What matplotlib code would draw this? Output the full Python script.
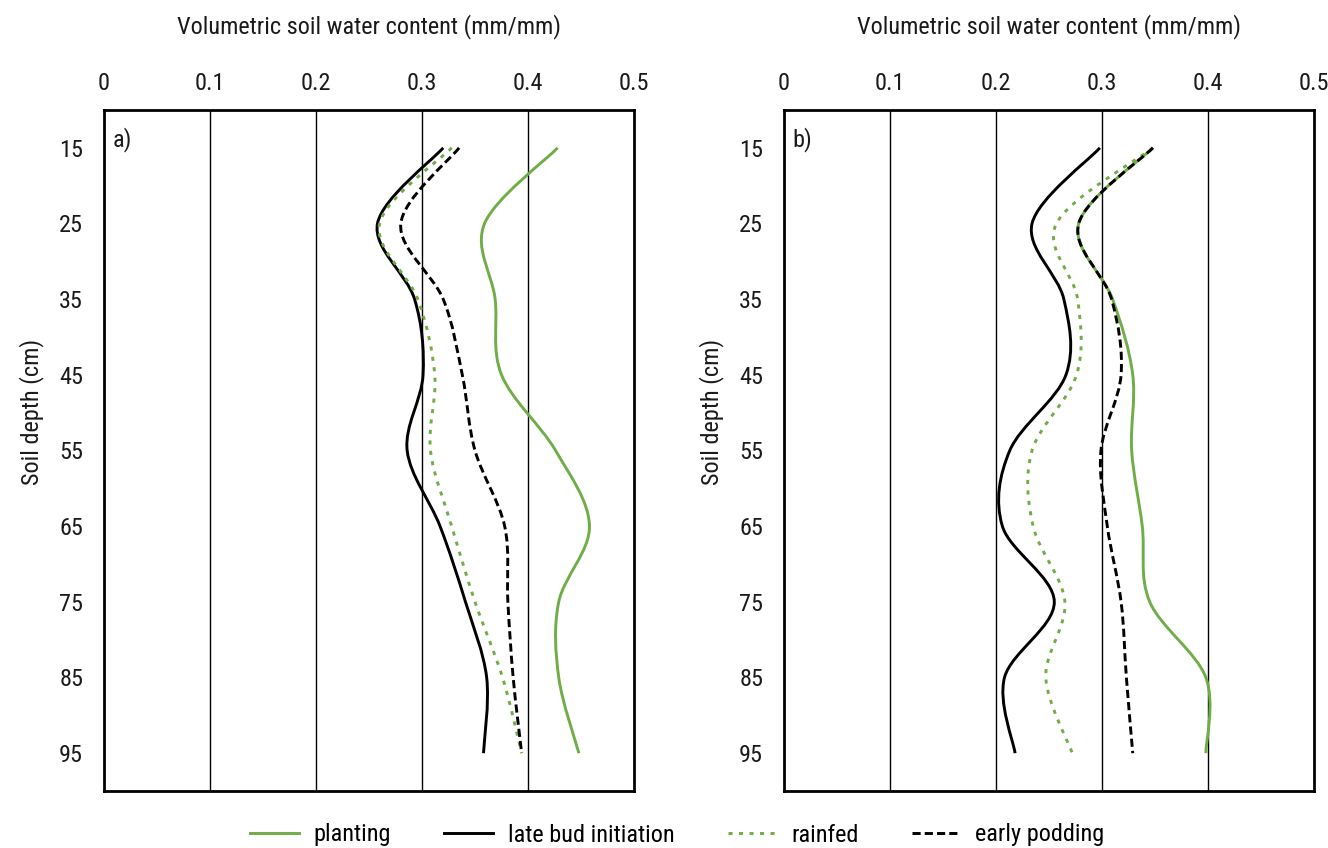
import matplotlib
matplotlib.use("Agg")
import matplotlib.pyplot as plt
from matplotlib.path import Path
from matplotlib.patches import PathPatch
from matplotlib.lines import Line2D
from matplotlib import font_manager

# ---- data -------------------------------------------------------------
depths = [15, 25, 35, 45, 55, 65, 75, 85, 95]

# panel a)
a_planting = [0.428, 0.359, 0.369, 0.375, 0.426, 0.458, 0.429, 0.429, 0.448]
a_late_bud = [0.320, 0.258, 0.293, 0.301, 0.286, 0.317, 0.341, 0.361, 0.358]
a_rainfed = [0.328, 0.260, 0.296, 0.312, 0.308, 0.328, 0.350, 0.376, 0.394]
a_early_pod = [0.335, 0.280, 0.320, 0.338, 0.350, 0.378, 0.381, 0.386, 0.394]

# panel b)
b_planting = [0.348, 0.278, 0.310, 0.329, 0.328, 0.338, 0.345, 0.398, 0.398]
b_late_bud = [0.298, 0.234, 0.264, 0.266, 0.213, 0.206, 0.255, 0.208, 0.218]
b_rainfed = [0.348, 0.257, 0.277, 0.276, 0.234, 0.235, 0.265, 0.247, 0.272]
b_early_pod = [0.348, 0.278, 0.309, 0.318, 0.299, 0.305, 0.318, 0.323, 0.329]

x_ticks = [0, 0.1, 0.2, 0.3, 0.4, 0.5]
x_tick_labels = ["0", "0.1", "0.2", "0.3", "0.4", "0.5"]
series_names = ["planting", "late bud initiation", "rainfed", "early podding"]
panel_tags = ["a)", "b)"]

# ---- fonts: prefer a narrow sans face ----------------------------------
entries = font_manager.fontManager.ttflist
names = {f.name for f in entries}
family = None
for cand in ["Liberation Sans Narrow", "Roboto Condensed", "Open Sans Condensed",
             "DejaVu Sans Condensed", "Noto Sans Condensed"]:
    if cand in names:
        family = cand
        break
stretch = "normal"
if family is None:
    narrow_faces = [f for f in entries
                    if f.name in ("DejaVu Sans", "Roboto", "Open Sans", "Noto Sans", "Liberation Sans")
                    and str(f.stretch) in ("condensed", "semi-condensed", "75", "87.5", "62.5")
                    and f.weight in (400, "normal", "regular")]
    if narrow_faces:
        family = narrow_faces[0].name
        stretch = "condensed"
    else:
        family = "DejaVu Sans"
        stretch = "condensed"
plt.rcParams["font.family"] = [family, "DejaVu Sans"]
plt.rcParams["font.stretch"] = stretch

GREEN = "#70AD47"
LW = 2.1
styles = [
    dict(color=GREEN, linestyle="-"),
    dict(color="black", linestyle="-"),
    dict(color=GREEN, linestyle=(0, (1.4, 2.2))),
    dict(color="black", linestyle=(0, (2.8, 1.4))),
]


def smooth_path(xs, ys):
    """Cubic Bezier path through the points (Catmull-Rom style smoothing)."""
    pts = list(zip(xs, ys))
    n = len(pts)
    verts = [pts[0]]
    codes = [Path.MOVETO]
    for i in range(n - 1):
        p0 = pts[max(i - 1, 0)]
        p1 = pts[i]
        p2 = pts[i + 1]
        p3 = pts[min(i + 2, n - 1)]
        c1 = (p1[0] + (p2[0] - p0[0]) / 6.0, p1[1] + (p2[1] - p0[1]) / 6.0)
        c2 = (p2[0] - (p3[0] - p1[0]) / 6.0, p2[1] - (p3[1] - p1[1]) / 6.0)
        verts += [c1, c2, p2]
        codes += [Path.CURVE4] * 3
    return Path(verts, codes)


W, H = 1328, 848
fig = plt.figure(figsize=(W / 100, H / 100), dpi=100)

panels = [
    ((104, 634), [a_planting, a_late_bud, a_rainfed, a_early_pod]),
    ((784, 1314), [b_planting, b_late_bud, b_rainfed, b_early_pod]),
]
top_px, bottom_px = 110, 791
TXT = "#1a1a1a"

for idx, ((x0, x1), series) in enumerate(panels):
    ax = fig.add_axes([x0 / W, 1 - bottom_px / H, (x1 - x0) / W, (bottom_px - top_px) / H])
    ax.set_xlim(0, 0.5)
    ax.set_ylim(100, 10)

    for xv in x_ticks[1:-1]:
        ax.axvline(xv, color="black", lw=1.0, zorder=1)

    for vals, st in zip(series, styles):
        patch = PathPatch(smooth_path(vals, depths), fill=False, lw=LW,
                          capstyle="butt", joinstyle="round", zorder=3, **st)
        ax.add_patch(patch)

    ax.xaxis.tick_top()
    ax.set_xticks(x_ticks)
    ax.set_xticklabels(x_tick_labels)
    ax.set_yticks(depths)
    ax.set_yticklabels([str(d) for d in depths])
    ax.tick_params(axis="both", length=0, labelsize=17.5, labelcolor=TXT)
    ax.tick_params(axis="x", pad=11)
    ax.tick_params(axis="y", pad=15)

    for sp in ax.spines.values():
        sp.set_linewidth(2.0)
        sp.set_color("black")

    ax.xaxis.set_label_position("top")
    ax.set_xlabel("Volumetric soil water content (mm/mm)", fontsize=17.5, color=TXT)
    ax.xaxis.label.set_va("center")
    ax.xaxis.set_label_coords(0.5, (bottom_px - 27) / (bottom_px - top_px))

    ax.set_ylabel("Soil depth (cm)", fontsize=17.5, color=TXT)
    ax.yaxis.label.set_va("center")
    ax.yaxis.set_label_coords(-72 / (x1 - x0), (bottom_px - 412) / (bottom_px - top_px))

    ax.text(0.016, 0.975, panel_tags[idx], transform=ax.transAxes, ha="left", va="top",
            fontsize=17.5, color=TXT)

handles = [Line2D([], [], lw=LW, **st) for st in styles]
fig.legend(handles, series_names, loc="center", bbox_to_anchor=(0.51, 1 - 835 / H),
           ncol=4, frameon=False, fontsize=17.5, handlelength=2.0, handletextpad=0.6,
           columnspacing=2.2)

fig.savefig("out.png", dpi=100, facecolor="white")
